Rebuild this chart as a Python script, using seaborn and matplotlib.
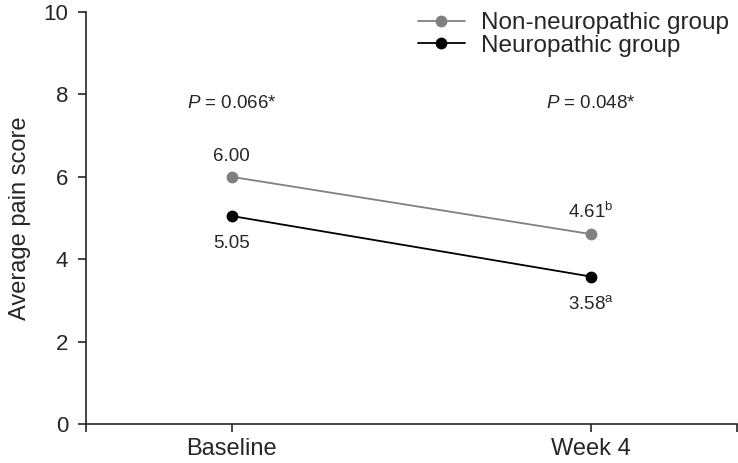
import pandas as pd
import matplotlib.pyplot as plt
import seaborn as sns

# chart values
timepoints = ["Baseline", "Week 4"]
groups = ["Non-neuropathic group", "Neuropathic group"]
non_neuro_scores = [6.00, 4.61]
neuro_scores = [5.05, 3.58]
non_neuro_labels = ["6.00", "4.61$^{\\mathregular{b}}$"]
neuro_labels = ["5.05", "3.58$^{\\mathregular{a}}$"]
p_values = ["0.066*", "0.048*"]
y_ticks = [0, 2, 4, 6, 8, 10]

sns.set_style("ticks")
plt.rcParams["font.family"] = ["Liberation Sans", "DejaVu Sans"]
plt.rcParams["mathtext.fontset"] = "custom"
plt.rcParams["mathtext.rm"] = "Liberation Sans"
plt.rcParams["mathtext.it"] = "Liberation Sans:italic"

df = pd.DataFrame({
    "time": list(range(len(timepoints))) * 2,
    "score": non_neuro_scores + neuro_scores,
    "group": [groups[0]] * 2 + [groups[1]] * 2,
})

fig, ax = plt.subplots(figsize=(7.38, 4.63), dpi=100)
sns.lineplot(data=df, x="time", y="score", hue="group", hue_order=groups,
             palette=["#808080", "#000000"], marker="o", markersize=8.5,
             markeredgewidth=0, linewidth=1.3, ax=ax)

# value labels above / below the points
for i, lab in enumerate(non_neuro_labels):
    ax.text(i, non_neuro_scores[i] + 0.38, lab, ha="center", va="baseline", fontsize=13.5)
for i, lab in enumerate(neuro_labels):
    ax.text(i, neuro_scores[i] - 0.78, lab, ha="center", va="baseline", fontsize=13.5)
for i, p in enumerate(p_values):
    ax.text(i, 7.67, "$\\it{P}$ = " + p, ha="center", va="baseline", fontsize=13.5)

ax.set_xlim(-0.405, 1.405)
ax.set_ylim(0, 10)
ax.set_xticks([-0.405, 0, 1, 1.405])
ax.set_xticklabels(["", timepoints[0], timepoints[1], ""], fontsize=17)
ax.set_yticks(y_ticks)
ax.set_yticklabels([str(t) for t in y_ticks], fontsize=16)
ax.tick_params(direction="out", length=6, width=1.2)
ax.tick_params(axis="x", pad=4)
ax.tick_params(axis="y", pad=7)
ax.set_xlabel("")
ax.set_ylabel("Average pain score", fontsize=17, labelpad=9)
for side in ["left", "bottom"]:
    ax.spines[side].set_linewidth(1.2)
sns.despine(ax=ax)

ax.legend(loc="upper right", bbox_to_anchor=(1.0215, 1.052), frameon=False,
          fontsize=17.5, handlelength=1.9, labelspacing=0.0,
          handletextpad=0.66)

fig.subplots_adjust(left=0.117, right=0.998, top=0.974, bottom=0.084)
fig.savefig("out.png", dpi=100)
